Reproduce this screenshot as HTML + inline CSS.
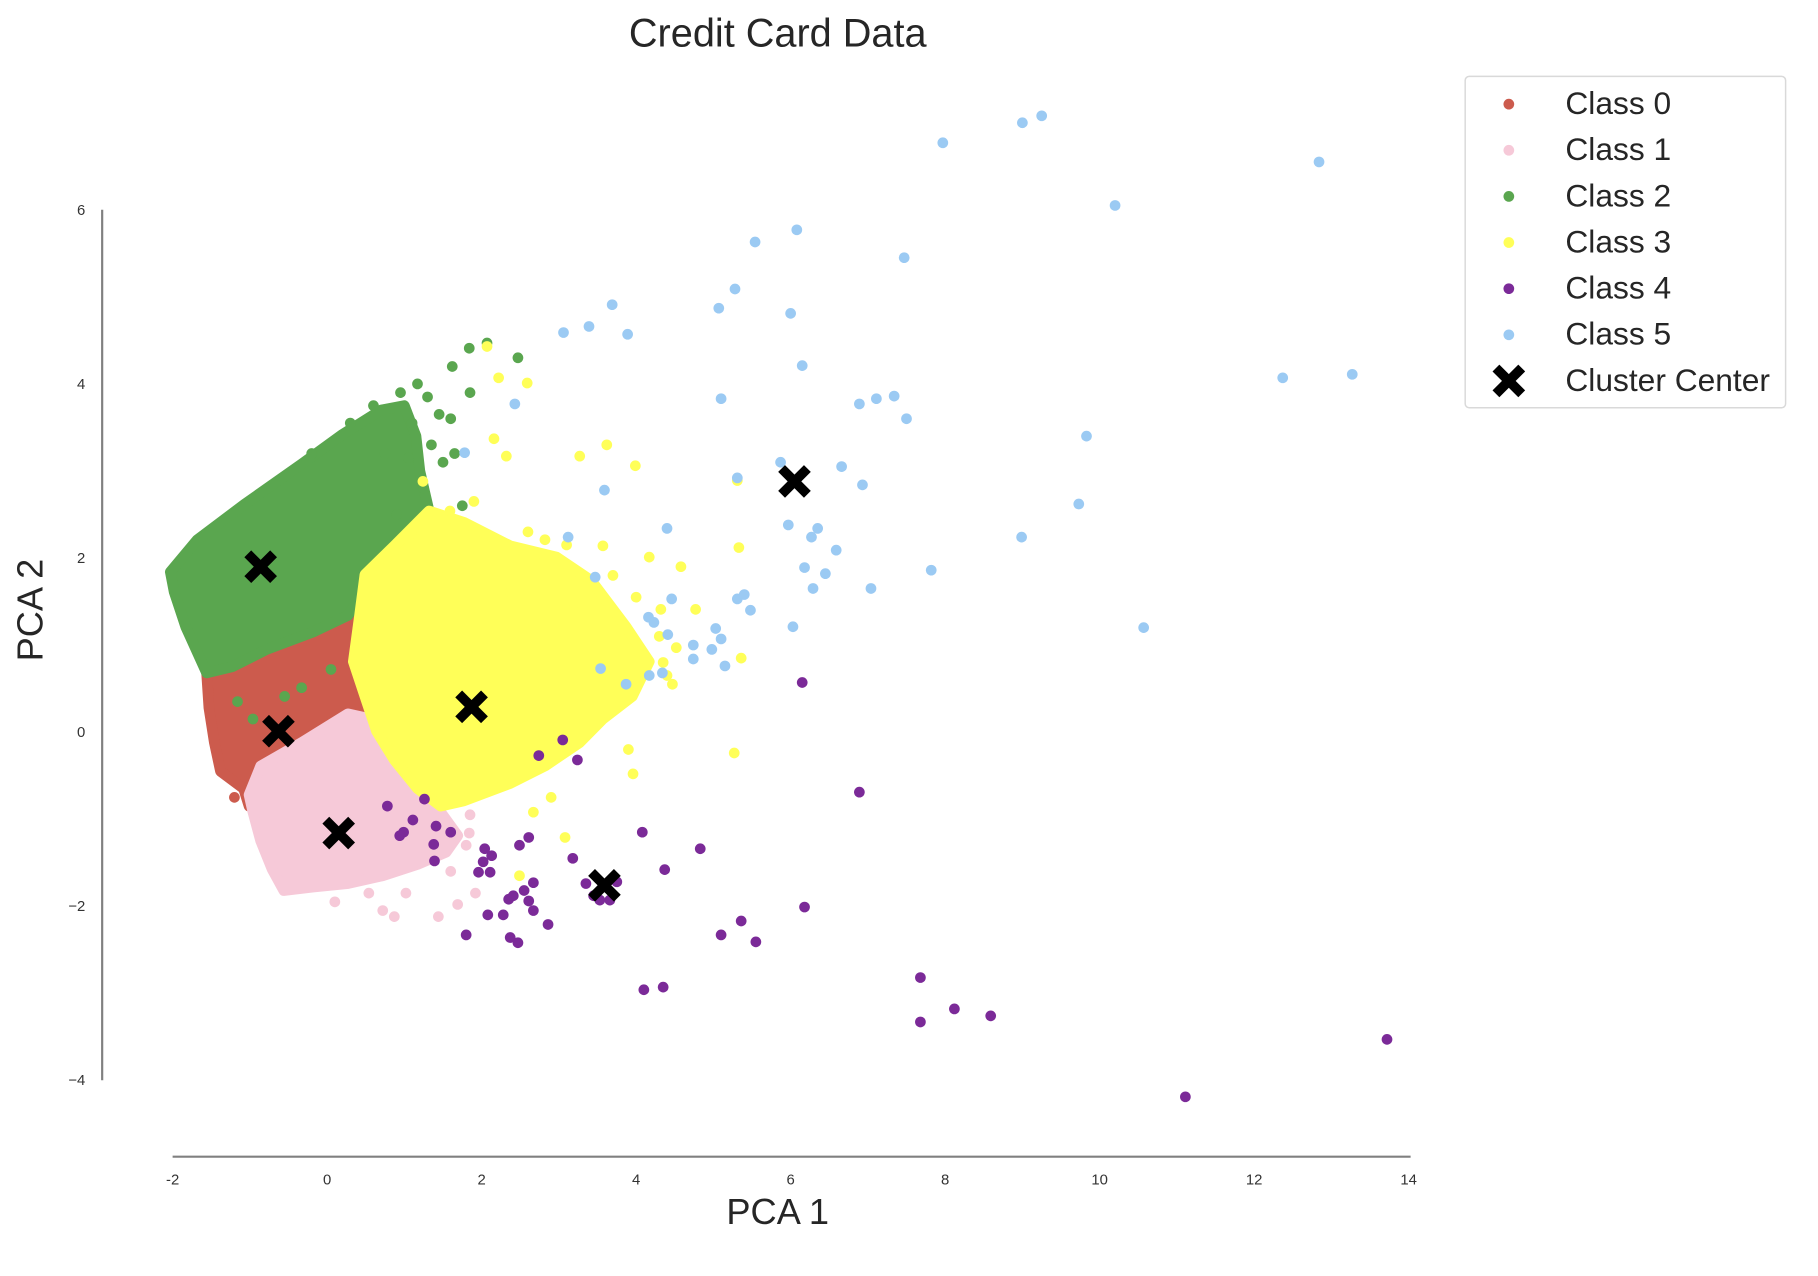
<!DOCTYPE html>
<html><head><meta charset="utf-8"><style>
html,body{margin:0;padding:0;background:#fff;}
svg{display:block;font-family:"Liberation Sans",sans-serif;}
</style></head><body>
<svg id="chart" width="1818" height="1276" viewBox="0 0 1818 1276" xmlns="http://www.w3.org/2000/svg">
<rect width="1818" height="1276" fill="#fff"/>
<g transform="scale(0.992)">
<text x="784" y="47" text-anchor="middle" font-size="40" fill="#262626">Credit Card Data</text>
<g id="plot"></g>
<g id="axes"></g>
<g id="legend"></g>
</g>
</svg>
<script>
const xTicks=[-2,0,2,4,6,8,10,12,14];
const yTicks=[-4,-2,0,2,4,6];
const classColors=["#cc5b4d","#f6c9d8","#5aa64f","#ffff58","#7b2a98","#9bcaf3"];
const classNames=["Class 0","Class 1","Class 2","Class 3","Class 4","Class 5"];
// dense region outlines (data units)
const dense0=[[-1.56,0.68],[-1.23,0.81],[-0.63,1.01],[-0.03,1.21],[0.27,1.41],[0.45,1.15],[0.57,0.68],[0.64,0.41],[0.42,0.15],[0.12,-0.12],[-0.18,-0.32],[-0.48,-0.45],[-0.78,-0.65],[-1.01,-0.85],[-1.08,-0.65],[-1.38,-0.45],[-1.46,-0.12],[-1.53,0.28]];
const dense1=[[-0.86,-0.39],[-0.33,-0.12],[0.27,0.21],[0.57,0.15],[0.87,-0.25],[1.24,-0.65],[1.47,-0.92],[1.69,-1.19],[1.54,-1.38],[1.17,-1.52],[0.72,-1.65],[0.27,-1.74],[-0.18,-1.78],[-0.56,-1.82],[-0.71,-1.58],[-0.86,-1.25],[-0.96,-0.92],[-1.01,-0.72]];
const dense2=[[-2.03,1.84],[-1.68,2.21],[-1.08,2.61],[-0.33,3.08],[0.2,3.42],[0.7,3.7],[1.0,3.75],[1.15,3.4],[1.2,3.0],[1.32,2.54],[0.87,2.14],[0.57,1.74],[0.27,1.34],[-0.18,1.15],[-0.78,0.95],[-1.23,0.75],[-1.56,0.68],[-1.83,1.21],[-1.98,1.61]];
const dense3=[[0.49,1.81],[0.87,2.14],[1.32,2.54],[1.77,2.41],[2.37,2.14],[2.97,2.01],[3.42,1.74],[3.87,1.21],[4.17,0.81],[3.95,0.41],[3.57,0.15],[3.27,-0.12],[2.82,-0.39],[2.37,-0.59],[1.77,-0.79],[1.47,-0.85],[1.17,-0.65],[0.87,-0.32],[0.64,0.01],[0.49,0.41],[0.34,0.81],[0.42,1.34]];
// scattered points (data units)
const pts0=[[-1.45,0.95],[-1.1,1.1],[0.6,0.95],[0.7,0.5],[-1.2,-0.75],[-0.9,-0.95]];
const pts1=[[0.72,-2.05],[0.87,-2.12],[1.44,-2.12],[1.69,-1.98],[1.92,-1.85],[1.84,-1.16],[1.24,-1.32],[0.54,-1.85],[1.02,-1.85],[1.8,-1.3],[1.6,-1.6],[0.1,-1.95],[1.85,-0.95]];
const pts2=[[2.07,4.47],[1.84,4.41],[2.47,4.3],[1.62,4.2],[1.17,4.0],[1.85,3.9],[1.65,3.2],[1.6,3.6],[1.75,2.6],[1.5,2.3],[0.57,1.6],[-1.16,0.35],[-0.96,0.15],[-0.33,0.51],[-0.55,0.41],[0.05,0.72],[0.4,1.7],[1.3,3.85],[1.45,3.65],[1.35,3.3],[1.5,3.1],[0.95,3.9],[0.6,3.75],[0.3,3.55],[1.1,3.55],[1.25,2.8],[0.9,2.5],[1.05,3.15],[-0.2,3.2],[0.75,3.2]];
const pts3=[[2.07,4.43],[2.22,4.07],[2.59,4.01],[2.16,3.37],[2.32,3.17],[3.27,3.17],[3.62,3.3],[3.99,3.06],[4.58,1.9],[5.31,2.89],[5.33,2.12],[5.36,0.85],[5.27,-0.24],[3.96,-0.48],[3.08,-1.21],[2.49,-1.65],[4.32,1.41],[4.52,0.97],[4.47,0.55],[2.82,2.21],[2.37,1.61],[1.59,2.54],[1.24,2.88],[1.09,2.28],[3.57,2.14],[3.2,1.48],[4.17,2.01],[2.67,-0.92],[4.77,1.41],[4.4,0.65],[3.9,-0.2],[2.9,-0.75],[1.9,2.65],[2.6,2.3],[3.1,2.15],[3.7,1.8],[4.0,1.55],[4.3,1.1],[4.35,0.8]];
const pts4=[[6.15,0.57],[6.89,-0.69],[4.08,-1.15],[4.83,-1.34],[4.37,-1.58],[6.18,-2.01],[5.36,-2.17],[5.1,-2.33],[5.55,-2.41],[7.68,-2.82],[8.12,-3.18],[8.59,-3.26],[7.68,-3.33],[13.72,-3.53],[11.11,-4.19],[4.1,-2.96],[4.35,-2.93],[3.05,-0.09],[2.74,-0.27],[3.24,-0.32],[1.26,-0.77],[0.78,-0.85],[0.99,-1.15],[1.11,-1.01],[1.41,-1.08],[1.38,-1.29],[1.39,-1.48],[1.6,-1.15],[2.04,-1.34],[2.13,-1.42],[2.02,-1.49],[2.11,-1.61],[1.96,-1.61],[2.49,-1.3],[2.61,-1.21],[3.18,-1.45],[2.67,-1.73],[2.55,-1.82],[2.41,-1.88],[2.61,-1.94],[2.35,-1.92],[2.67,-2.05],[2.28,-2.1],[2.08,-2.1],[1.8,-2.33],[2.37,-2.36],[2.47,-2.42],[2.86,-2.21],[3.35,-1.74],[3.45,-1.88],[3.53,-1.93],[3.75,-1.72],[3.66,-1.93],[0.94,-1.19]];
const pts5=[[7.97,6.77],[9.0,7.0],[9.25,7.08],[12.84,6.55],[10.2,6.05],[5.54,5.63],[6.08,5.77],[7.47,5.45],[5.28,5.09],[5.07,4.87],[6.0,4.81],[6.15,4.21],[3.69,4.91],[3.39,4.66],[3.06,4.59],[3.89,4.57],[2.43,3.77],[1.78,3.21],[5.1,3.83],[6.89,3.77],[7.11,3.83],[7.34,3.86],[7.5,3.6],[9.83,3.4],[12.37,4.07],[13.27,4.11],[5.87,3.1],[6.66,3.05],[6.93,2.84],[5.31,2.92],[3.59,2.78],[9.73,2.62],[8.99,2.24],[3.12,2.24],[4.4,2.34],[3.47,1.78],[5.97,2.38],[6.35,2.34],[6.27,2.24],[6.59,2.09],[6.18,1.89],[6.45,1.82],[6.29,1.65],[7.04,1.65],[7.82,1.86],[5.31,1.53],[5.4,1.58],[5.48,1.4],[4.46,1.53],[6.03,1.21],[10.57,1.2],[4.16,1.32],[4.23,1.26],[4.41,1.12],[4.74,1.0],[5.03,1.19],[5.1,1.07],[4.98,0.95],[4.74,0.84],[5.15,0.76],[3.54,0.73],[4.17,0.65],[4.34,0.68],[3.87,0.55]];
const centersX=[-0.63,0.15,-0.86,1.87,3.59,6.05];
const centersY=[0.01,-1.16,1.9,0.29,-1.76,2.88];

const NS="http://www.w3.org/2000/svg";
const X0=174,X1=1420,Y0=211.5,Y1=1089;
function xs(v){return X0+(v-(-2))*(X1-X0)/16;}
function ys(v){return Y0+(6-v)*(Y1-Y0)/10;}
function mk(t,a,p){const e=document.createElementNS(NS,t);for(const k in a)e.setAttribute(k,a[k]);p.appendChild(e);return e;}
const plot=document.getElementById('plot'),axes=document.getElementById('axes'),legend=document.getElementById('legend');
const denseSets=[dense0,dense1,dense2,dense3];
const ptSets=[pts0,pts1,pts2,pts3,pts4,pts5];
const R=5.4;
for(let c=0;c<6;c++){
  const g=mk('g',{},plot);
  
  
  if(c<4){
    const d=denseSets[c].map(p=>xs(p[0]).toFixed(1)+','+ys(p[1]).toFixed(1)).join(' ');
    const poly=mk('polygon',{points:d,fill:classColors[c],stroke:classColors[c],'stroke-width':2*R,'stroke-linejoin':'round'},g);
    
    
  }
  ptSets[c].forEach(p=>{
    const ci=mk('circle',{cx:xs(p[0]),cy:ys(p[1]),r:R,fill:classColors[c]},g);
    
    
  });
}
function xMark(cx,cy,s,parent){
  return mk('path',{d:`M${cx-s},${cy-s}L${cx+s},${cy+s}M${cx-s},${cy+s}L${cx+s},${cy-s}`,stroke:'#000','stroke-width':s*0.75,'stroke-linecap':'butt',fill:'none'},parent);
}
for(let i=0;i<centersX.length;i++){
  const m=xMark(xs(centersX[i]),ys(centersY[i]),13,plot);
  
  
}
// axes
const xl=mk('line',{x1:X0,x2:X1+2,y1:1166,y2:1166,stroke:'#808080','stroke-width':2.2},axes);


const yl=mk('line',{x1:103,x2:103,y1:Y0,y2:Y1,stroke:'#808080','stroke-width':2.2},axes);


xTicks.forEach(v=>{
  const t=mk('text',{x:xs(v),y:1194,'text-anchor':'middle','font-size':15,fill:'#333'},axes);
  t.textContent=String(v);
  
  
});
yTicks.forEach(v=>{
  const t=mk('text',{x:86,y:ys(v)+5,'text-anchor':'end','font-size':15,fill:'#333'},axes);
  t.textContent=v<0?'\u2212'+Math.abs(v):String(v);
  
  
});
const xt=mk('text',{x:784,y:1234,'text-anchor':'middle','font-size':36.5,fill:'#262626'},axes);
xt.textContent='PCA 1';


const yt=mk('text',{x:0,y:0,'text-anchor':'middle','font-size':36.5,fill:'#262626',transform:'translate(43,615) rotate(-90)'},axes);
yt.textContent='PCA 2';


// legend
const box=mk('rect',{x:1477,y:77,width:323,height:334,rx:4,fill:'#fff',stroke:'#d9d9d9','stroke-width':1.5},legend);


const labels=classNames.concat(['Cluster Center']);
labels.forEach((lab,i)=>{
  const y=103+i*46.5;
  const g=mk('g',{},legend);
  
  
  if(i<6){mk('circle',{cx:1521,cy:y+2,r:5.4,fill:classColors[i]},g);}
  else{xMark(1521,y+2,13,g);}
  const t=mk('text',{x:1578,y:y+12,'font-size':32,fill:'#262626'},g);
  t.textContent=lab;
});
</script>
</body></html>
